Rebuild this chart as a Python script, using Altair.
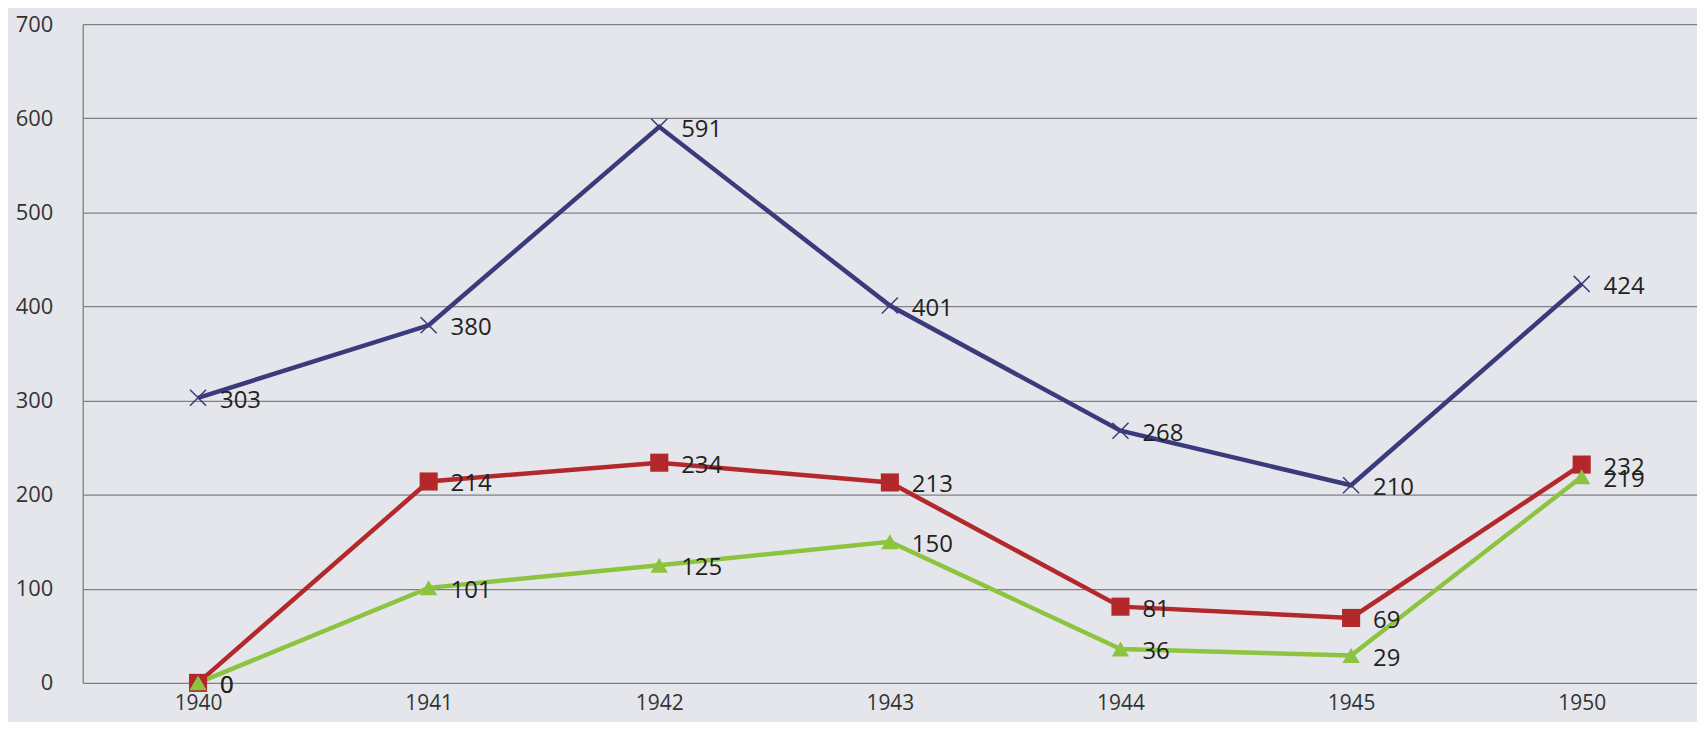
import altair as alt
import pandas as pd

years = ["1940", "1941", "1942", "1943", "1944", "1945", "1950"]
blue_vals = [303, 380, 591, 401, 268, 210, 424]
red_vals = [0, 214, 234, 213, 81, 69, 232]
green_vals = [0, 101, 125, 150, 36, 29, 219]
series_names = ["A", "B", "C"]
colors = ["#3b3b7c", "#b3282b", "#8cc43f"]

rows = []
for name, vals in zip(series_names, [blue_vals, red_vals, green_vals]):
    for y, v in zip(years, vals):
        rows.append({"year": y, "value": v, "series": name})
df = pd.DataFrame(rows)

FONT = "Open Sans, sans-serif"

x = alt.X("year:O", sort=years, scale=alt.Scale(type="point", padding=0.5),
          axis=alt.Axis(title=None, labelAngle=0, ticks=False, domain=False, grid=False,
                        labelFontSize=21, labelColor="#333333", labelFont=FONT,
                        labelPadding=10))
y = alt.Y("value:Q", scale=alt.Scale(domain=[0, 700], nice=False),
          axis=alt.Axis(title=None, values=[0, 100, 200, 300, 400, 500, 600, 700],
                        ticks=False, domain=True, domainColor="#8a8a8a", domainWidth=1.5,
                        gridColor="#7f7f85", gridWidth=1.2, gridOpacity=1,
                        labelFontSize=22, labelColor="#333333", labelFont=FONT,
                        labelPadding=30))
color = alt.Color("series:N", scale=alt.Scale(domain=series_names, range=colors), legend=None)

base = alt.Chart(df).encode(x=x, y=y, color=color)

lines = base.mark_line(strokeWidth=4.5)

squares = base.transform_filter(alt.datum.series == "B").mark_point(
    shape="square", filled=True, size=330, opacity=1)
triangles = base.transform_filter(alt.datum.series == "C").mark_point(
    shape="triangle-up", filled=True, size=300, opacity=1)
crosses = base.transform_filter(alt.datum.series == "A").mark_point(
    shape="M-1,-1L1,1M1,-1L-1,1", filled=False, size=260, strokeWidth=1.5,
    opacity=1, color="#6a6aa0")

labels = base.mark_text(align="left", baseline="middle", dx=22, dy=3,
                        fontSize=24, font=FONT, color="#222222").encode(
    text="value:Q", color=alt.value("#222222"))

chart = alt.layer(lines, squares, triangles, crosses, labels).properties(
    width=1620, height=661,
    background="#e5e6eb",
    padding={"left": 75, "top": 15, "right": 0, "bottom": 38},
    autosize=alt.AutoSizeParams(type="none"),
).configure_view(stroke=None)

chart.save("out.html", embed_options={"renderer": "svg", "actions": False})
